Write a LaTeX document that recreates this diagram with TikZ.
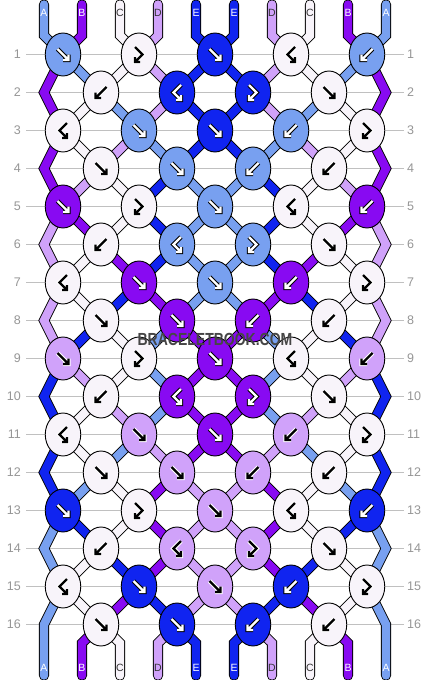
\documentclass[tikz,border=0pt]{standalone}
\usepackage{fontspec}
\setmainfont{Liberation Sans}
\usetikzlibrary{shapes.geometric}
\definecolor{cA}{RGB}{120,160,240}
\definecolor{cB}{RGB}{136,10,242}
\definecolor{cC}{RGB}{248,244,250}
\definecolor{cD}{RGB}{208,162,250}
\definecolor{cE}{RGB}{16,36,240}
\definecolor{guide}{RGB}{192,192,192}
\definecolor{numgray}{RGB}{150,150,150}
\definecolor{markgray}{RGB}{70,70,70}
\pgfdeclarelayer{back}
\pgfdeclarelayer{strands}
\pgfsetlayers{back,strands,main}
\tikzset{
  knot/.style={ellipse, draw=black, line width=0.9pt, fill=#1,
    minimum width=35.5pt, minimum height=43pt, inner sep=0pt},
  strand/.style={draw=black, line width=0.9pt, double=#1, double distance=8.4pt},
  guide line/.style={draw=guide, line width=1pt},
  rownum/.style={text=numgray, inner sep=0pt, font=\fontsize{12.5}{12.5}\selectfont},
  endtag/.style={inner sep=0pt, font=\fontsize{10.5}{10.5}\selectfont},
  mark text/.style={inner sep=0pt, font=\bfseries\fontsize{17.5}{17.5}\selectfont},
  wink/.style={draw=black, line width=4.4pt, postaction={draw=white, line width=2.4pt}},
  kink/.style={draw=white, line width=4.4pt, postaction={draw=black, line width=2.4pt}},
  ink A/.style=wink, ink B/.style=wink, ink E/.style=wink,
  ink C/.style=kink, ink D/.style=kink,
  tag A/.style={text=white}, tag B/.style={text=white}, tag E/.style={text=white},
  tag C/.style={text=black!80}, tag D/.style={text=black!80},
  fw/.pic={\draw[ink #1] (-5.5,-5.5) -- (5.5,5.5) (0,5.5) -- (5.5,5.5) -- (5.5,0);},
  bw/.pic={\draw[ink #1] (5.5,-5.5) -- (-5.5,5.5) (0,5.5) -- (-5.5,5.5) -- (-5.5,0);},
  fb/.pic={\draw[ink #1] (-4,-7.5) -- (3.5,0) -- (-4,7.5) (-4,2.5) -- (-4,7.5) -- (1,7.5);},
  bf/.pic={\draw[ink #1] (4,-7.5) -- (-3.5,0) -- (4,7.5) (4,2.5) -- (4,7.5) -- (-1,7.5);}
}

\begin{document}
\begin{tikzpicture}[x=1pt, y=-1pt]
\useasboundingbox (0,0) rectangle (430,680);
\begin{pgfonlayer}{back}
  \fill[white] (0,0) rectangle (430,680);
\end{pgfonlayer}

% knots, row by row
\foreach \r/\row in {
    1/{fw/A,fb/C,fw/E,bf/C,bw/A}, 2/{bw/C,bf/E,fb/E,fw/C},
    3/{bf/C,fw/A,fw/E,bw/A,fb/C}, 4/{fw/C,fw/A,bw/A,bw/C},
    5/{fw/B,fb/C,fw/A,bf/C,bw/B}, 6/{bw/C,bf/A,fb/A,fw/C},
    7/{bf/C,fw/B,fw/A,bw/B,fb/C}, 8/{fw/C,fw/B,bw/B,bw/C},
    9/{fw/D,fb/C,fw/B,bf/C,bw/D}, 10/{bw/C,bf/B,fb/B,fw/C},
    11/{bf/C,fw/D,fw/B,bw/D,fb/C}, 12/{fw/C,fw/D,bw/D,bw/C},
    13/{fw/E,fb/C,fw/D,bf/C,bw/E}, 14/{bw/C,bf/D,fb/D,fw/C},
    15/{bf/C,fw/E,fw/D,bw/E,fb/C}, 16/{fw/C,fw/E,bw/E,bw/C}}{
  \pgfmathsetmacro\y{54.5+38*(\r-1)}
  \foreach \kind/\col [count=\k] in \row {
    \pgfmathsetmacro\x{(isodd(\r) ? 63 : 101)+76*(\k-1)}
    \node[knot=c\col] (k-\r-\k) at (\x,\y) {};
    \pic at (k-\r-\k) {\kind=\col};
  }
  \node[rownum, anchor=east] (nl-\r) at (21,\y) {\r};
  \node[rownum, anchor=west] (nr-\r) at (407,\y) {\r};
  \begin{pgfonlayer}{back}
    \draw[guide line, shorten <=5pt, shorten >=3pt] (nl-\r) -- (nr-\r);
  \end{pgfonlayer}
}
\foreach \r in {2,4,...,16}{
  \coordinate (eL-\r) at (44,{54.5+38*(\r-1)});
  \coordinate (eR-\r) at (386,{54.5+38*(\r-1)});
}

\begin{pgfonlayer}{strands}
% strands between rows
\foreach \r/\strs in {
    1/{B,A,C,D,E,E,D,C,A,B}, 2/{B,C,A,D,E,E,D,A,C,B},
    3/{B,C,D,A,E,E,A,D,C,B}, 4/{B,D,C,E,A,A,E,C,D,B},
    5/{D,B,C,E,A,A,E,C,B,D}, 6/{D,C,B,E,A,A,E,B,C,D},
    7/{D,C,E,B,A,A,B,E,C,D}, 8/{D,E,C,A,B,B,A,C,E,D},
    9/{E,D,C,A,B,B,A,C,D,E}, 10/{E,C,D,A,B,B,A,D,C,E},
    11/{E,C,A,D,B,B,D,A,C,E}, 12/{E,A,C,B,D,D,B,C,A,E},
    13/{A,E,C,B,D,D,B,C,E,A}, 14/{A,C,E,B,D,D,B,E,C,A},
    15/{A,C,B,E,D,D,E,B,C,A}}{
  \pgfmathtruncatemacro\rn{\r+1}
  \foreach \col [count=\p] in \strs {
    \ifnum\p>1\relax\ifnum\p<10\relax
      \pgfmathtruncatemacro\ka{\p/2}
      \pgfmathtruncatemacro\kb{(\p+1)/2}
      \ifodd\r
        \draw[strand=c\col] (k-\r-\kb.center) -- (k-\rn-\ka.center);
      \else
        \draw[strand=c\col] (k-\r-\ka.center) -- (k-\rn-\kb.center);
      \fi
    \fi\fi
  }
}
% side strands
\foreach \r/\col in {1/B,3/B,5/D,7/D,9/E,11/E,13/A}{
  \pgfmathtruncatemacro\rn{\r+1}
  \pgfmathtruncatemacro\rnn{\r+2}
  \draw[strand=c\col] (k-\r-1.center) -- (eL-\rn) -- (k-\rnn-1.center);
  \draw[strand=c\col] (k-\r-5.center) -- (eR-\rn) -- (k-\rnn-5.center);
}
% loose ends
\foreach \col [count=\p] in {A,B,C,D,E,E,D,C,B,A}{
  \pgfmathsetmacro\x{44+38*(\p-1)}
  \pgfmathtruncatemacro\kt{(\p+1)/2}
  \pgfmathtruncatemacro\kb{\p/2}
  \coordinate (t-\p) at (\x,4.5);
  \coordinate (b-\p) at (\x,675.5);
  \draw[strand=c\col, line cap=round] (t-\p) -- ++(0,31) -- (k-1-\kt.center);
  \ifnum\p=1
    \draw[strand=c\col, line cap=round] (k-15-1.center) -- (eL-16) -- (b-\p);
  \else\ifnum\p=10
    \draw[strand=c\col, line cap=round] (k-15-5.center) -- (eR-16) -- (b-\p);
  \else
    \draw[strand=c\col, line cap=round] (k-16-\kb.center) -- (\x,643) -- (b-\p);
  \fi\fi
  \node[endtag, tag \col] (lt-\p) at (\x,12.5) {\col};
  \node[endtag, tag \col] (lb-\p) at (\x,667.5) {\col};
}
\end{pgfonlayer}

\node[mark text, text=markgray] (mark) at (215,339)
  {\scalebox{0.8}[1]{BRACELETBOOK.COM}};
\end{tikzpicture}
\end{document}
